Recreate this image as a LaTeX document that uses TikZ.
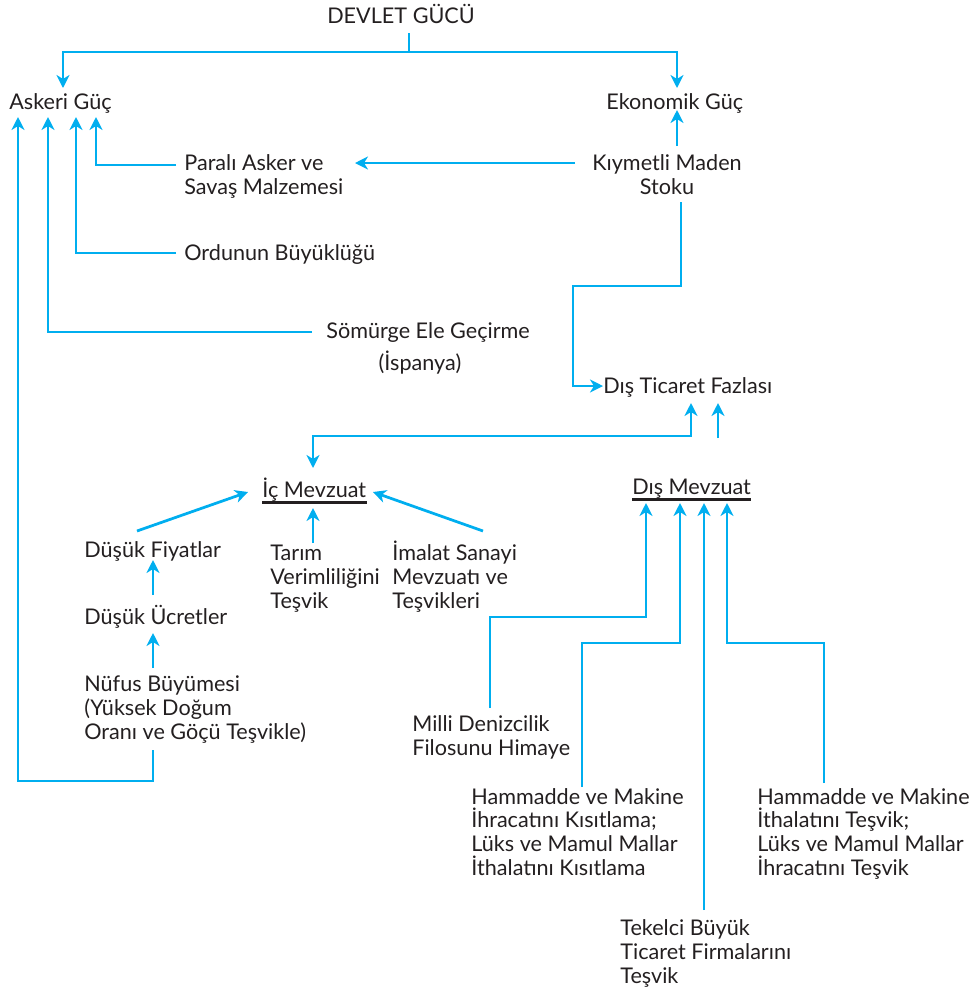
\documentclass[tikz,border=0pt]{standalone}
\usepackage{fontspec}
\setmainfont{Lato}
\usetikzlibrary{positioning,calc,arrows.meta}

\definecolor{linkblue}{RGB}{0,174,239}
\definecolor{inkgray}{RGB}{35,31,32}

\tikzset{
  lbl/.style={inner sep=0pt, align=left, text=inkgray, font=\fontsize{12.3pt}{13.4pt}\selectfont},
  conn/.style={draw=linkblue, line width=0.055cm},
  arr/.style={conn, -{Stealth[length=0.26cm, width=0.26cm, inset=0.08cm]}},
  arrtwo/.style={conn, {Stealth[length=0.26cm, width=0.26cm, inset=0.08cm]}-{Stealth[length=0.26cm, width=0.26cm, inset=0.08cm]}},
  ul/.style={text depth=0.1cm, append after command={(\tikzlastnode.south west) edge[draw=inkgray, line width=0.055cm] (\tikzlastnode.south east)}}
}

\begin{document}
\begin{tikzpicture}[x=0.02cm, y=-0.02cm]
        \useasboundingbox (0,0) rectangle (978,995);

        \node[lbl, anchor=base] (devlet) at (401,23) {DEVLET GÜCÜ};
        \node[lbl, anchor=base west] (askeri) at (9,109) {Askeri Güç};
        \node[lbl, anchor=base west] (ekonomik) at (606,109) {Ekonomik Güç};
        \node[lbl, anchor=base west] (parali) at (184,194) {Paralı Asker ve\\Savaş Malzemesi};
        \node[lbl, anchor=base, align=center] (kiymetli) at (667,194) {Kıymetli Maden\\Stoku};
        \node[lbl, anchor=base west] (ordu) at (184,260) {Ordunun Büyüklüğü};
        \node[lbl, anchor=base west] (somurge) at (326,338) {Sömürge Ele Geçirme};
        \node[lbl, anchor=base] (ispanya) at (420,370) {(İspanya)};
        \node[lbl, anchor=base west] (disticaret) at (603,393) {Dış Ticaret Fazlası};

        \node[lbl, ul, anchor=base west] (icmev) at (262,497) {İç Mevzuat};
        \node[lbl, ul, anchor=base west] (dismev) at (632,494) {Dış Mevzuat};
        \node[lbl, anchor=base west] (fiyat) at (84,557) {Düşük Fiyatlar};
        \node[lbl, anchor=base west] (ucret) at (84,624) {Düşük Ücretler};
        \node[lbl, anchor=base west] (nufus) at (84,739) {Nüfus Büyümesi\\(Yüksek Doğum\\Oranı ve Göçü Teşvikle)};
        \node[lbl, anchor=base west] (tarim) at (270,608) {Tarım\\Verimliliğini\\Teşvik};
        \node[lbl, anchor=base west] (imalat) at (392,608) {İmalat Sanayi\\Mevzuatı ve\\Teşvikleri};
        \node[lbl, anchor=base west] (milli) at (412,755) {Milli Denizcilik\\Filosunu Himaye};
        \node[lbl, anchor=base west] (hamihr) at (471,875) {Hammadde ve Makine\\İhracatını Kısıtlama;\\Lüks ve Mamul Mallar\\İthalatını Kısıtlama};
        \node[lbl, anchor=base west] (hamith) at (757,875) {Hammadde ve Makine\\İthalatını Teşvik;\\Lüks ve Mamul Mallar\\İhracatını Teşvik};
        \node[lbl, anchor=base west] (tekelci) at (620,983) {Tekelci Büyük\\Ticaret Firmalarını\\Teşvik};

        % top split
        \coordinate (split) at (409,52);
        \draw[conn] ($(devlet.base)+(8,10)$) -- (split);
        \draw[arr] (split) -| ($(askeri.base west)+(54,-21)$);
        \draw[arr] (split) -| ($(ekonomik.base west)+(71,-21)$);

        % into Askeri Guc
        \draw[arr] ($(parali.base west)+(-8,-29)$) -| ($(askeri.base west)+(87,8)$);
        \draw[arr] ($(ordu.base west)+(-8,-7)$) -| ($(askeri.base west)+(67,8)$);
        \draw[arr] ($(somurge.base west)+(-14,-6)$) -| ($(askeri.base west)+(39,8)$);
        \draw[arr] ($(nufus.base west)+(69,11)$) -- ++(0,31) -| ($(askeri.base west)+(9,8)$);

        % Kiymetli Maden
        \draw[arr] ($(kiymetli.base)+(10,-48)$) -- ($(ekonomik.base west)+(71,1)$);
        \draw[arr] ($(kiymetli.base)+(-92,-31)$) -- ($(parali.base west)+(171,-31)$);
        \draw[arr] ($(kiymetli.base)+(14,8)$) -- ++(0,84) -| ($(disticaret.base west)+(-30,-7)$) -- ($(disticaret.base west)+(0,-7)$);

        % Dis Ticaret Fazlasi
        \coordinate (dmup) at ($(dismev.base west)+(86,-56)$);
        \draw[arrtwo] ($(icmev.base west)+(51,-29)$) |- ($(disticaret.base west)+(88,43)$) -- ($(disticaret.base west)+(88,10)$);
        \draw[arr] (dmup) -- ($(disticaret.base west)+(115,10)$);

        % Ic Mevzuat
        \draw[arr] ($(fiyat.base west)+(53,-26)$) -- ($(icmev.base west)+(-14,-5)$);
        \draw[arr] ($(tarim.base west)+(43,-65)$) -- ($(icmev.base west)+(51,11)$);
        \draw[arr] ($(imalat.base west)+(91,-77)$) -- ($(icmev.base west)+(111,-5)$);
        \draw[arr] ($(ucret.base west)+(69,-29)$) -- ($(fiyat.base west)+(69,3)$);
        \draw[arr] ($(nufus.base west)+(69,-71)$) -- ($(ucret.base west)+(69,9)$);

        % Dis Mevzuat
        \draw[arr] ($(milli.base west)+(78,-47)$) |- ($(dismev.base west)+(14,123)$) -- ($(dismev.base west)+(14,9)$);
        \draw[arr] ($(hamihr.base west)+(111,-88)$) |- ($(dismev.base west)+(48,149)$) -- ($(dismev.base west)+(48,9)$);
        \draw[arr] ($(tekelci.base west)+(84,-73)$) -- ($(dismev.base west)+(72,9)$);
        \draw[arr] ($(hamith.base west)+(67,-92)$) |- ($(dismev.base west)+(95,149)$) -- ($(dismev.base west)+(95,9)$);
\end{tikzpicture}
\end{document}
